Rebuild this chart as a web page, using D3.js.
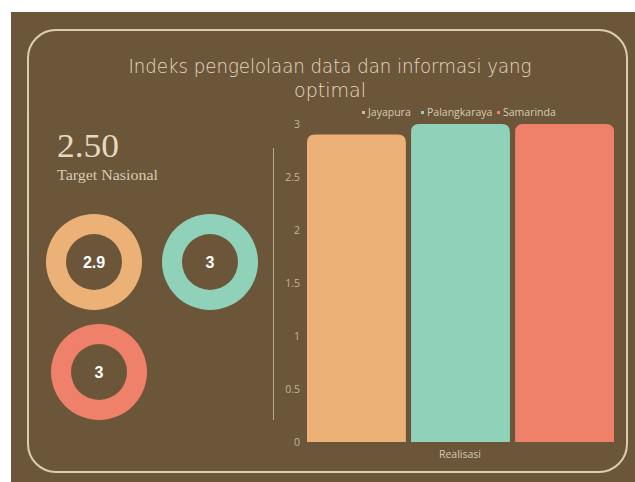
<!DOCTYPE html>
<html><head><meta charset="utf-8">
<script src="https://cdn.jsdelivr.net/npm/d3@7"></script>
<style>
html,body{margin:0;padding:0;background:#fff;}
svg{display:block;}
</style></head>
<body>
<svg id="chart" width="635" height="482"></svg>
<script>
const categories = ["Jayapura", "Palangkaraya", "Samarinda"];
const values = [2.9, 3, 3];
const colors = ["#ecb176", "#8fd1b9", "#ef806a"];
const yTicks = [0, 0.5, 1, 1.5, 2, 2.5, 3];
const titleLines = ["Indeks pengelolaan data dan informasi yang", "optimal"];
const targetValue = "2.50";
const targetLabel = "Target Nasional";
const xLabel = "Realisasi";

const svg = d3.select("#chart");
const bg = "#6b563a";
const cream = "#e6d9c0";

svg.append("rect").attr("x", 11).attr("y", 12).attr("width", 624).attr("height", 470).attr("fill", bg);
svg.append("rect").attr("x", 28).attr("y", 30).attr("width", 599).attr("height", 442)
  .attr("rx", 28).attr("ry", 28).attr("fill", "none").attr("stroke", "#dccdb2").attr("stroke-width", 2);

// Title
svg.selectAll("text.title").data(titleLines).join("text")
  .attr("class", "title")
  .attr("x", 330).attr("y", (d, i) => 73 + i * 24)
  .attr("text-anchor", "middle")
  .attr("fill", cream)
  .attr("font-family", "'DejaVu Sans', sans-serif")
  .attr("font-weight", 200)
  .attr("font-size", 20)
  .attr("textLength", (d, i) => i === 0 ? 403 : 72)
  .attr("lengthAdjust", "spacingAndGlyphs")
  .text(d => d);

// Target
svg.append("text").attr("x", 57).attr("y", 157).attr("fill", cream)
  .attr("font-family", "'Liberation Serif', serif").attr("font-size", 33)
  .attr("textLength", 62).attr("lengthAdjust", "spacingAndGlyphs")
  .text(targetValue);
svg.append("text").attr("x", 57).attr("y", 180).attr("fill", "#d9cab0")
  .attr("font-family", "'Liberation Serif', serif").attr("font-size", 14)
  .attr("textLength", 101).attr("lengthAdjust", "spacingAndGlyphs")
  .text(targetLabel);

// Donuts
const donutCenters = [[94, 262], [210, 262], [99, 372]];
const arc = d3.arc().innerRadius(28).outerRadius(48).startAngle(0).endAngle(2 * Math.PI);
const donuts = svg.selectAll("g.donut").data(values).join("g")
  .attr("class", "donut")
  .attr("transform", (d, i) => `translate(${donutCenters[i][0]},${donutCenters[i][1]})`);
donuts.append("path").attr("d", arc()).attr("fill", (d, i) => colors[i]);
donuts.append("text").attr("text-anchor", "middle").attr("dy", "0.36em")
  .attr("fill", "#fff").attr("font-family", "'Liberation Sans', Arial, sans-serif")
  .attr("font-weight", "bold").attr("font-size", 16)
  .text(d => d);

// Divider
svg.append("line").attr("x1", 273.5).attr("x2", 273.5).attr("y1", 148).attr("y2", 420)
  .attr("stroke", "#b9a68a").attr("stroke-width", 1);

// Bar chart
const y = d3.scaleLinear().domain([0, 3]).range([442, 124]);
const x = d3.scaleBand().domain(categories).range([307, 614]).paddingInner(0.05).paddingOuter(0);

const yAxis = svg.append("g").attr("transform", "translate(300,0)")
  .call(d3.axisLeft(y).tickValues(yTicks).tickSize(0).tickPadding(0).tickFormat(d3.format("")));
yAxis.select(".domain").remove();
yAxis.selectAll("text").attr("fill", "#c4b49a").attr("font-family", "'Open Sans', sans-serif").attr("font-size", 10.5);

const r = 8;
function barPath(x0, w, yTop, yBot) {
  return `M${x0},${yBot}V${yTop + r}Q${x0},${yTop} ${x0 + r},${yTop}H${x0 + w - r}Q${x0 + w},${yTop} ${x0 + w},${yTop + r}V${yBot}Z`;
}
svg.selectAll("path.bar").data(values).join("path")
  .attr("class", "bar")
  .attr("fill", (d, i) => colors[i])
  .attr("d", (d, i) => barPath(x(categories[i]), x.bandwidth(), y(d), y(0)));

svg.append("text").attr("x", 460).attr("y", 458).attr("text-anchor", "middle")
  .attr("fill", "#d5c8b2").attr("font-family", "'Open Sans', sans-serif").attr("font-size", 10.5)
  .text(xLabel);

// Legend
const legendX = [362, 421, 497];
const lg = svg.selectAll("g.legend").data(categories).join("g").attr("class", "legend")
  .attr("transform", (d, i) => `translate(${legendX[i]},113)`);
lg.append("rect").attr("x", 0).attr("y", -2).attr("width", 3).attr("height", 3).attr("fill", (d, i) => colors[i]);
lg.append("text").attr("x", 6).attr("y", 0).attr("dy", "0.32em").attr("fill", "#d9cbb2")
  .attr("font-family", "'Open Sans', sans-serif").attr("font-size", 10.5).text(d => d);
</script>
</body></html>
